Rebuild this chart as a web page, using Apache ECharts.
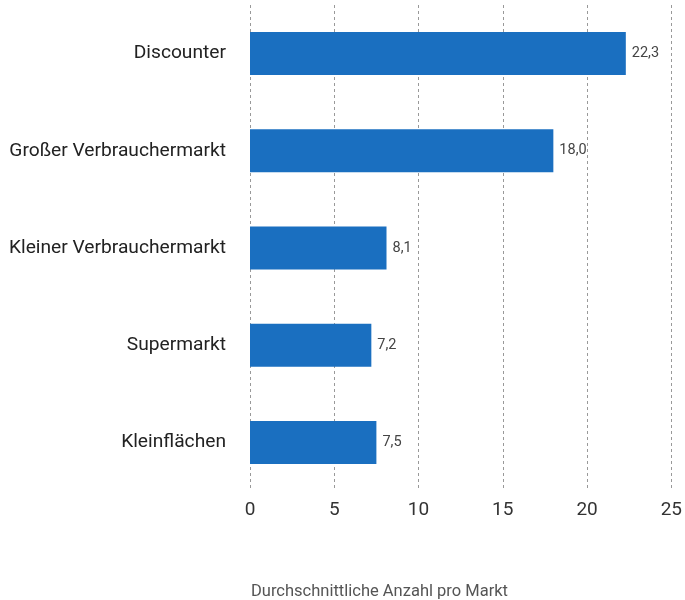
<!DOCTYPE html>
<html>
<head>
<meta charset="utf-8">
<script src="https://cdn.jsdelivr.net/npm/echarts@6/dist/echarts.min.js"></script>
<style>html,body{margin:0;padding:0;background:#fff;}#c{width:685px;height:600px;}</style>
</head>
<body>
<div id="c"></div>
<script>
const categories = ["Discounter", "Großer Verbrauchermarkt", "Kleiner Verbrauchermarkt", "Supermarkt", "Kleinflächen"];
const values = [22.3, 18.0, 8.1, 7.2, 7.5];
const axisTitle = "Durchschnittliche Anzahl pro Markt";

const chart = echarts.init(document.getElementById('c'));
chart.setOption({
  backgroundColor: '#ffffff',
  animation: false,
  title: {
    text: axisTitle,
    left: 246,
    top: 578,
    textStyle: { fontFamily: 'Roboto', fontSize: 16.5, fontWeight: 'normal', color: '#555' }
  },
  grid: { left: 250, right: 12, top: 5, bottom: 109, containLabel: false },
  xAxis: {
    type: 'value',
    min: 0, max: 25, interval: 5,
    axisLine: { show: false },
    axisTick: { show: false },
    axisLabel: { fontFamily: 'Roboto', fontSize: 19, color: '#333', margin: 10 },
    splitLine: { show: true, lineStyle: { type: [3, 3], color: '#999', width: 1 } }
  },
  yAxis: {
    type: 'category',
    inverse: true,
    data: categories,
    axisLine: { show: false },
    axisTick: { show: false },
    axisLabel: { fontFamily: 'Roboto', fontSize: 19.2, color: '#222', margin: 24 }
  },
  series: [{
    type: 'bar',
    data: values,
    barWidth: 43,
    itemStyle: { color: '#1a6fc0' },
    label: {
      show: true,
      position: 'right',
      distance: 6,
      fontFamily: 'Roboto',
      fontSize: 14.5,
      color: '#444',
      formatter: p => p.value.toFixed(1).replace('.', ',')
    }
  }]
});
</script>
</body>
</html>
